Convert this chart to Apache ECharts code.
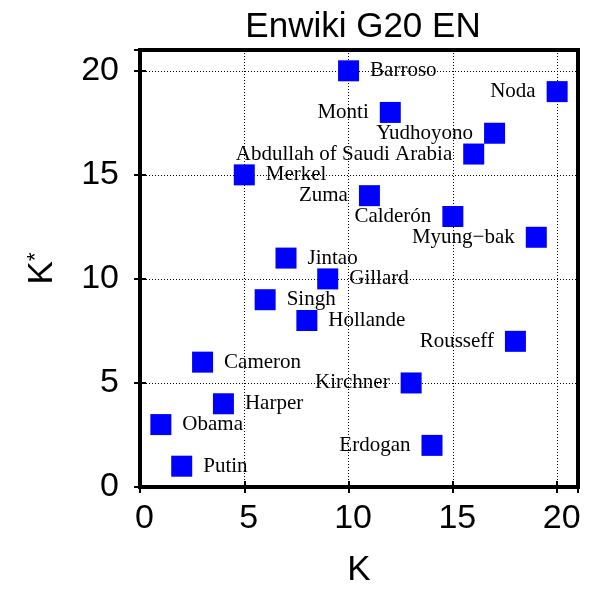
<!DOCTYPE html>
<html>
<head>
<meta charset="utf-8">
<script src="https://cdn.jsdelivr.net/npm/echarts@6/dist/echarts.min.js"></script>
<style>html,body{margin:0;padding:0;background:#fff;}#c{width:590px;height:593px;}</style>
</head>
<body>
<div id="c"></div>
<script>
var names = ['Putin','Obama','Harper','Cameron','Singh','Jintao','Hollande','Gillard','Merkel','Zuma','Barroso','Monti','Abdullah of Saudi Arabia','Yudhoyono','Noda','Calderón','Myung\u2212bak','Rousseff','Kirchner','Erdogan'];
var kValues = [2,1,4,3,6,7,8,9,5,11,10,12,16,17,20,15,19,18,13,14];
var kStarValues = [1,3,4,6,9,11,8,10,15,14,20,18,16,17,19,13,12,7,5,2];
var xTicks = [0,5,10,15,20];
var yTicks = [0,5,10,15,20];
var leftLabelled = ['Monti','Noda','Yudhoyono','Abdullah of Saudi Arabia','Zuma','Calderón','Myung\u2212bak','Rousseff','Kirchner','Erdogan'];

var sans = 'Liberation Sans';
var serif = 'Liberation Serif';

var data = names.map(function(n, i){
  return {
    name: n,
    value: [kValues[i], kStarValues[i]],
    label: { position: leftLabelled.indexOf(n) >= 0 ? 'left' : 'right' }
  };
});

function tickFmt(list){ return function(v){ return list.indexOf(v) >= 0 ? String(v) : ''; }; }

var chart = echarts.init(document.getElementById('c'), null, {renderer:'canvas'});
var axisCommon = {
  type: 'value', min: 0, max: 21, interval: 5,
  axisLine: { show: false },
  axisTick: { show: true, inside: true, length: 6, lineStyle: { color: '#000', width: 2 } }
};
chart.setOption({
  animation: false,
  backgroundColor: '#fff',
  title: {
    text: 'Enwiki G20 EN', left: 358, top: 5, textAlign: 'center',
    textStyle: { fontFamily: sans, fontSize: 35, fontWeight: 'normal', color: '#000' }
  },
  grid: { left: 140, right: 12, top: 50, bottom: 106, show: true, borderWidth: 4, borderColor: '#000', backgroundColor: 'transparent' },
  xAxis: [
    Object.assign({}, axisCommon, {
      position: 'bottom',
      name: 'K', nameLocation: 'middle', nameGap: 66,
      nameTextStyle: { fontFamily: sans, fontSize: 35, color: '#000' },
      axisLabel: { margin: 15, fontFamily: sans, fontSize: 34, color: '#000', formatter: tickFmt(xTicks), showMaxLabel: false, padding: [0,0,0,9] },
      splitLine: { show: true, lineStyle: { color: '#000', width: 1, type: [1,2] } }
    }),
    Object.assign({}, axisCommon, {
      position: 'top', axisLabel: { show: false }, splitLine: { show: false }
    })
  ],
  yAxis: [
    Object.assign({}, axisCommon, {
      position: 'left',
      name: '{k|K}{s|*}', nameLocation: 'middle', nameGap: 80, nameRotate: 90,
      nameTextStyle: {
        fontFamily: sans, color: '#000',
        rich: {
          k: { fontFamily: sans, fontSize: 35, lineHeight: 35, verticalAlign: 'bottom', color: '#000' },
          s: { fontFamily: sans, fontSize: 22, lineHeight: 22, verticalAlign: 'top', padding: [0,0,20,0], color: '#000' }
        }
      },
      axisLabel: { margin: 21, fontFamily: sans, fontSize: 34, color: '#000', formatter: tickFmt(yTicks), showMaxLabel: false },
      splitLine: { show: true, lineStyle: { color: '#000', width: 1, type: [1,2] } }
    }),
    Object.assign({}, axisCommon, {
      position: 'right', axisLabel: { show: false }, splitLine: { show: false }
    })
  ],
  series: [{
    type: 'scatter',
    xAxisIndex: 0, yAxisIndex: 0,
    symbol: 'rect', symbolSize: 21,
    itemStyle: { color: '#0000ff', opacity: 1 },
    label: {
      show: true, distance: 11,
      formatter: '{b}',
      fontFamily: serif, fontSize: 21, color: '#000'
    },
    labelLayout: { hideOverlap: false },
    data: data
  }]
});
</script>
</body>
</html>
